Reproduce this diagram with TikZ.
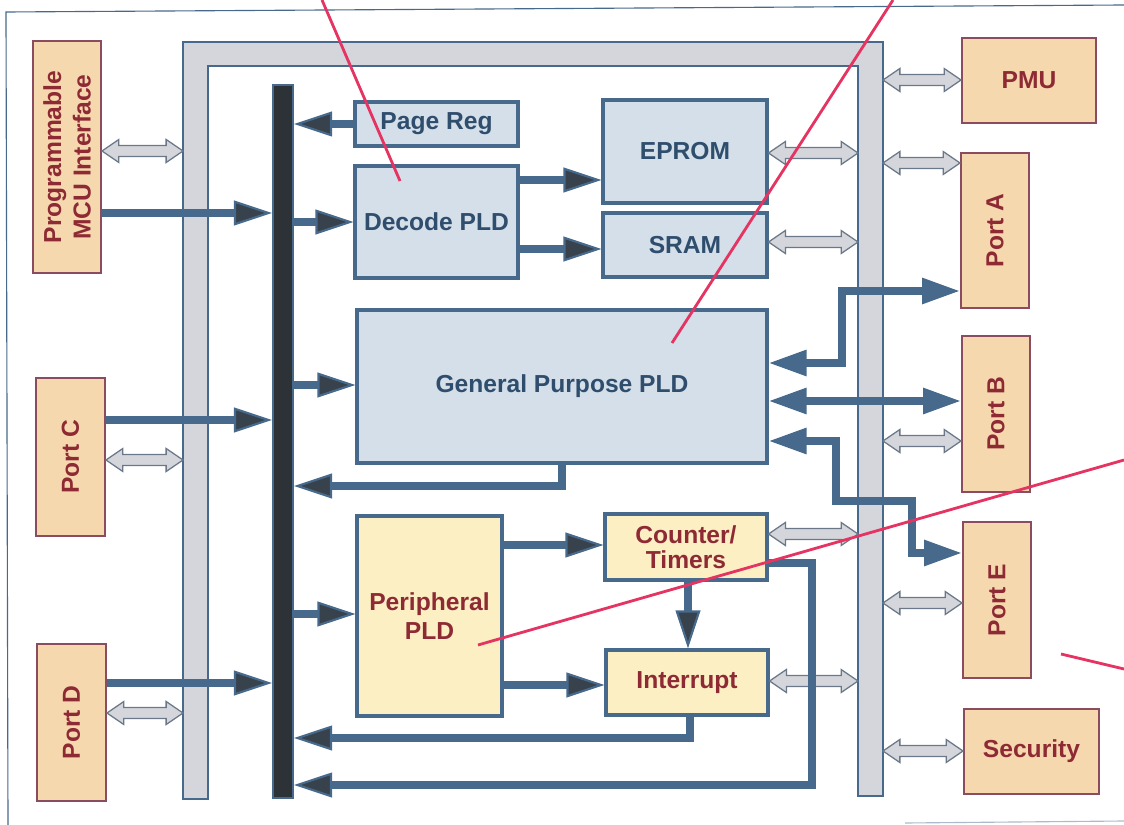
\documentclass[tikz,border=0pt]{standalone}
\usepackage{fontspec}
\setmainfont{Liberation Sans}
\usetikzlibrary{arrows.meta,calc}

\definecolor{steel}{HTML}{46698C}
\definecolor{busdark}{HTML}{2C3236}
\definecolor{busgray}{HTML}{D5D6DC}
\definecolor{bluefill}{HTML}{D4DFEA}
\definecolor{bluetext}{HTML}{2F4D6C}
\definecolor{orfill}{HTML}{F6D8AF}
\definecolor{orline}{HTML}{8A4C5E}
\definecolor{yelfill}{HTML}{FBEFC3}
\definecolor{redtext}{HTML}{8E2A34}
\definecolor{marker}{HTML}{E63462}
\definecolor{headdark}{HTML}{37424C}
\definecolor{garline}{HTML}{6A7889}

\tikzset{
  lbl/.style={font=\bfseries\fontsize{17.5}{20}\selectfont},
  bbox/.style={draw=steel, line width=2.2pt, fill=bluefill, text=bluetext, lbl, inner sep=0pt},
  obox/.style={draw=orline, line width=1.4pt, fill=orfill, inner sep=0pt},
  otxt/.style={text=redtext, lbl, inner sep=0pt, align=center},
  ybox/.style={draw=steel, line width=2.2pt, fill=yelfill, text=redtext, lbl, inner sep=0pt, align=center},
  dline/.style={draw=steel, line width=5pt},
  darr/.style={dline, -{Triangle[length=27pt,width=17.5pt,line width=1.5pt,fill=headdark]}},
  dbarr/.style={dline, {Triangle[length=27pt,width=17.5pt]}-{Triangle[length=27pt,width=17.5pt]}},
  garr/.style={draw=garline, line width=0.9pt, fill=busgray, line join=miter},
  redline/.style={draw=marker, line width=2pt},
  framel/.style={draw=steel, line width=0.8pt}
}

% hollow double-headed bus arrow between two points on one horizontal line
\newcommand\garrow[2]{%
  \path[garr] let \p1=#1, \p2=#2 in
    (\x1,\y1) -- (\x1+12pt,\y1+8.2pt) -- (\x1+12pt,\y1+3.9pt)
    -- (\x2-12pt,\y1+3.9pt) -- (\x2-12pt,\y1+8.2pt) -- (\x2,\y1)
    -- (\x2-12pt,\y1-8.2pt) -- (\x2-12pt,\y1-3.9pt)
    -- (\x1+12pt,\y1-3.9pt) -- (\x1+12pt,\y1-8.2pt) -- cycle;}

\begin{document}
\begin{tikzpicture}[x=0.25mm, y=-0.25mm]
\useasboundingbox (0,0) rectangle (1124,825);

% page frame
\draw[framel] (1124,5) -- (6,12) -- (8,825);
\draw[framel, draw=steel!45] (905,823) -- (1124,821);

% external (gray) bus
\path[draw=steel, line width=1.6pt, fill=busgray]
  (183,799) -- (183,42) -- (883,42) -- (883,796) -- (858,796)
  -- (858,66) -- (208,66) -- (208,799) -- cycle;
\coordinate (gbLo) at (183,0);
\coordinate (gbRi) at (858,0);
\coordinate (gbRo) at (883,0);

% internal (dark) bus
\node[draw=steel, line width=1.5pt, fill=busdark, minimum width=5mm,
      minimum height=178.25mm, inner sep=0pt] (bus) at (283,441.5) {};

% left-hand blocks
\node[obox, minimum width=17mm, minimum height=58mm] (mcu) at (67,157) {};
\node[otxt, rotate=90, font=\bfseries\fontsize{17.5}{21}\selectfont] (mcu-t) at (mcu.center) {Programmable\\MCU Interface};
\node[obox, minimum width=17.25mm, minimum height=39.5mm] (portC) at (70.5,457) {};
\node[otxt, rotate=90] (portC-t) at (portC.center) {Port C};
\node[obox, minimum width=17.25mm, minimum height=39.25mm] (portD) at (71.5,722.5) {};
\node[otxt, rotate=90] (portD-t) at (portD.center) {Port D};

% right-hand blocks
\node[obox, otxt, minimum width=33.5mm, minimum height=21.25mm] (pmu) at (1029,80.5) {PMU};
\node[obox, minimum width=17mm, minimum height=38.75mm] (portA) at (995,230.5) {};
\node[otxt, rotate=90] (portA-t) at (portA.center) {Port A};
\node[obox, minimum width=17mm, minimum height=39mm] (portB) at (996,414) {};
\node[otxt, rotate=90] (portB-t) at (portB.center) {Port B};
\node[obox, minimum width=17mm, minimum height=39mm] (portE) at (997,600) {};
\node[otxt, rotate=90] (portE-t) at (portE.center) {Port E};
\node[obox, otxt, minimum width=33.75mm, minimum height=21.25mm] (security) at (1031.5,751.5) {Security};

% memory and logic blocks
\node[bbox, minimum width=40.75mm, minimum height=11mm] (pagereg) at (436.5,124) {Page Reg};
\node[bbox, minimum width=40.75mm, minimum height=28mm] (decode) at (436.5,222) {Decode PLD};
\node[bbox, minimum width=41mm, minimum height=25.75mm] (eprom) at (685,151.5) {EPROM};
\node[bbox, minimum width=41mm, minimum height=16mm] (sram) at (685,245) {SRAM};
\node[bbox, minimum width=102.5mm, minimum height=38.25mm] (gp) at (562,386.5) {General Purpose PLD};
\node[ybox, minimum width=36.25mm, minimum height=50mm, font=\bfseries\fontsize{17.5}{21}\selectfont] (periph) at (429.5,616) {Peripheral\\PLD};
\node[ybox, minimum width=40.5mm, minimum height=16.5mm, font=\bfseries\fontsize{17.5}{17.5}\selectfont] (counter) at (686,547) {Counter/\\Timers};
\node[ybox, minimum width=40.5mm, minimum height=16.25mm] (interrupt) at (687,682.5) {Interrupt};

% connections to the external bus
\garrow{(mcu.east |- 0,151)}{(gbLo |- 0,151)}
\garrow{(portC.east |- 0,460)}{(gbLo |- 0,460)}
\garrow{(portD.east |- 0,713)}{(gbLo |- 0,713)}
\garrow{(eprom.east |- 0,153)}{(gbRi |- 0,153)}
\garrow{(sram.east |- 0,242)}{(gbRi |- 0,242)}
\garrow{(counter.east |- 0,534)}{(gbRi |- 0,534)}
\garrow{(interrupt.east |- 0,681)}{(gbRi |- 0,681)}
\garrow{(gbRo |- 0,80)}{(pmu.west |- 0,80)}
\garrow{(gbRo |- 0,163)}{(portA.west |- 0,163)}
\garrow{(gbRo |- 0,441)}{(portB.west |- 0,441)}
\garrow{(gbRo |- 0,603)}{(portE.west |- 0,603)}
\garrow{(gbRo |- 0,751)}{(security.west |- 0,751)}

% signal paths
\draw[darr] (pagereg.west) -- (bus.east |- pagereg.west);
\draw[darr] (mcu.east |- 0,213) -- (bus.west |- 0,213);
\draw[darr] (bus.east |- decode.west) -- (decode.west);
\draw[darr] (decode.east |- 0,180) -- (eprom.west |- 0,180);
\draw[darr] (decode.east |- 0,249) -- (sram.west |- 0,249);
\draw[darr] (bus.east |- 0,385) -- (gp.west |- 0,385);
\draw[darr] (portC.east |- 0,420) -- (bus.west |- 0,420);
\draw[darr] (gp.south) |- (bus.east |- 0,486);
\draw[darr] (bus.east |- 0,614) -- (periph.west |- 0,614);
\draw[darr] (portD.east |- 0,683) -- (bus.west |- 0,683);
\draw[darr] (periph.east |- 0,545) -- (counter.west |- 0,545);
\draw[darr] (periph.east |- 0,685) -- (interrupt.west |- 0,685);
\draw[darr] (counter.south -| 688,0) -- (interrupt.north -| 688,0);
\draw[darr] (interrupt.south -| 690,0) |- (bus.east |- 0,738);
\coordinate (ct1) at (812,785);
\draw[darr] (counter.east |- 0,563) -| (ct1) -- (bus.east |- ct1);

% port paths from the general purpose PLD
\coordinate (pa1) at (842,291);
\draw[dbarr] (gp.east |- 0,363) -| (pa1) -- (portA.west |- pa1);
\draw[dbarr] (gp.east |- 0,401) -- (portB.west |- 0,401);
\coordinate (pe1) at (836,501);
\coordinate (pe2) at (912,553);
\draw[dbarr] (gp.east |- 0,441) -| (pe1) -| (pe2) -- (portE.west |- pe2);

% callout lines
\draw[redline] (322,0) -- (400,181);
\draw[redline] (893,0) -- (672,343);
\draw[redline] (1124,460) -- (478,645);
\draw[redline] (1061,654) -- (1124,669);
\end{tikzpicture}
\end{document}
